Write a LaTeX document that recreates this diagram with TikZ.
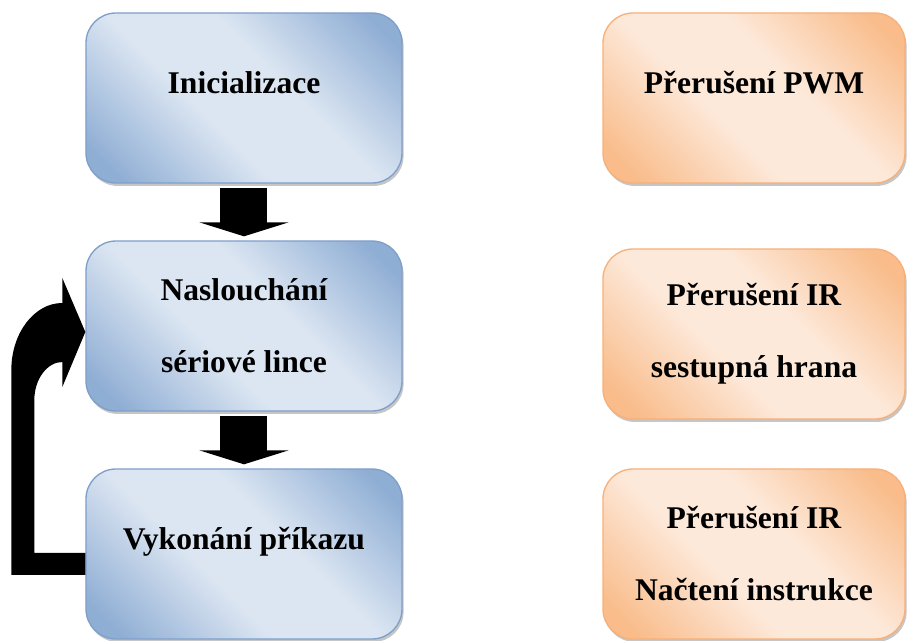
\documentclass[tikz,border=0pt]{standalone}
\usepackage{fontspec}
\setmainfont{Liberation Serif}
\usepackage{tikz}
\usetikzlibrary{positioning}
\usetikzlibrary{calc}
\usetikzlibrary{shadows}
\usetikzlibrary{arrows.meta}
\definecolor{bd}{HTML}{8FAED4}
\definecolor{bl}{HTML}{DCE6F2}
\definecolor{bb}{HTML}{7F9FCB}
\definecolor{od}{HTML}{F9BC8A}
\definecolor{ol}{HTML}{FDE9DA}
\definecolor{ob}{HTML}{F7B07A}
\pgfdeclareverticalshading{bsh}{100bp}{color(0bp)=(bd); color(20bp)=(bd); color(42bp)=(bl); color(58bp)=(bl); color(80bp)=(bd); color(100bp)=(bd)}
\pgfdeclareverticalshading{osh}{100bp}{color(0bp)=(od); color(20bp)=(od); color(42bp)=(ol); color(58bp)=(ol); color(80bp)=(od); color(100bp)=(od)}
\tikzset{every picture/.style={line width=1pt},every node/.style={font=\fontsize{23.7}{54}\selectfont\bfseries,align=center}}

\begin{document}
\begin{tikzpicture}[x=0.75pt,y=0.75pt,
bx/.style={rounded corners=22.5pt,minimum height=127.5pt,drop shadow={shadow xshift=1.2pt,shadow yshift=-2.2pt,opacity=0.45}},
bs/.style={bx,draw=bb,minimum width=237pt,shading=bsh,shading angle=-45},
os/.style={bx,draw=ob,minimum width=226.5pt,shading=osh,shading angle=-45},
tl/.style={text height=17pt,text depth=23pt},
ar/.style={line width=35.25pt,-{Triangle[width=66.75pt,length=10.5pt]},shorten <=3pt,shorten >=3pt}]
\useasboundingbox (-244,98) rectangle (664,-543);
\node (b1) [bs,tl] {Inicializace};
\node (b2) [bs,below of=b1,node distance=171pt] {Naslouchání\\sériové lince};
\node (b3) [bs,tl,below of=b2,node distance=171pt] {Vykonání příkazu};
\node (o1) [os,tl,right of=b1,node distance=382.5pt] {Přerušení PWM};
\node (o2) [os,below of=o1,node distance=177pt] {Přerušení IR\\sestupná hrana};
\node (o3) [os,below of=o2,node distance=165pt] {Přerušení IR\\Načtení instrukce};
\draw[ar] (b1) -- (b2);
\draw[ar] (b2) -- (b3);
% zpet z b3 do b2
\fill ($(b3.west)+(0,-21)$) -- ($(b3.west)+(-74,-21)$) -- ($(b2.west)+(-74,-44)$)
  .. controls ($(b2.west)+(-74,-7)$) and ($(b2.west)+(-51,23)$) .. ($(b2.west)+(-23,23)$)
  -- ($(b2.west)+(-23,48)$) -- ($(b2.west)+(0,-6)$) -- ($(b2.west)+(-23,-61)$) -- ($(b2.west)+(-23,-36)$)
  .. controls ($(b2.west)+(-38,-36)$) and ($(b2.west)+(-51,-53)$) .. ($(b2.west)+(-51,-74)$)
  -- ($(b3.west)+(-51,1)$) -- ($(b3.west)+(0,1)$) -- cycle;
\end{tikzpicture}
\end{document}
